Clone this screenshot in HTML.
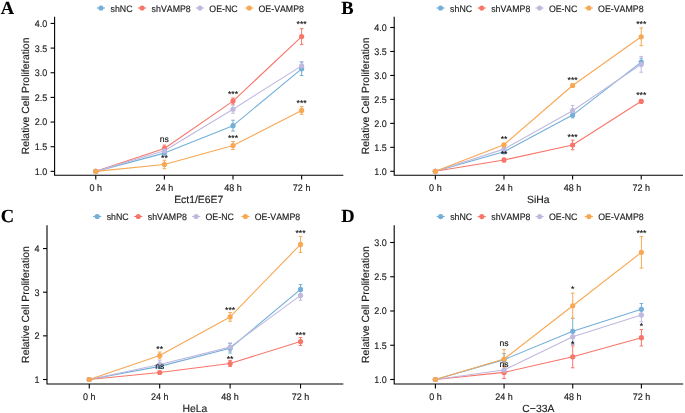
<!DOCTYPE html>
<html><head><meta charset="utf-8"><style>
html,body{margin:0;padding:0;background:#fff;}
svg{display:block;will-change:transform;}
</style></head><body>
<svg width="685" height="413" viewBox="0 0 685 413" font-family='"Liberation Sans", sans-serif'>
<style>text{stroke-width:0.14px;font-kerning:none;text-rendering:geometricPrecision;}</style>
<rect width="685" height="413" fill="#fff"/>
<g><text x="0.8" y="13.5" font-family='"Liberation Serif", serif' font-weight="bold" font-size="18.5" fill="#000" stroke="#000">A</text>
<path d="M54.6 17.2V175.2H342.8" fill="none" stroke="#000" stroke-width="1.1" stroke-linecap="square"/>
<path d="M50.6 171.35H54.6" stroke="#000" stroke-width="1.1"/>
<text transform="translate(47.2 174.75) scale(1 1.06)" text-anchor="end" font-size="9.0" fill="#222" stroke="#222">1.0</text>
<path d="M50.6 146.7H54.6" stroke="#000" stroke-width="1.1"/>
<text transform="translate(47.2 150.1) scale(1 1.06)" text-anchor="end" font-size="9.0" fill="#222" stroke="#222">1.5</text>
<path d="M50.6 122.05H54.6" stroke="#000" stroke-width="1.1"/>
<text transform="translate(47.2 125.45) scale(1 1.06)" text-anchor="end" font-size="9.0" fill="#222" stroke="#222">2.0</text>
<path d="M50.6 97.4H54.6" stroke="#000" stroke-width="1.1"/>
<text transform="translate(47.2 100.8) scale(1 1.06)" text-anchor="end" font-size="9.0" fill="#222" stroke="#222">2.5</text>
<path d="M50.6 72.75H54.6" stroke="#000" stroke-width="1.1"/>
<text transform="translate(47.2 76.15) scale(1 1.06)" text-anchor="end" font-size="9.0" fill="#222" stroke="#222">3.0</text>
<path d="M50.6 48.1H54.6" stroke="#000" stroke-width="1.1"/>
<text transform="translate(47.2 51.5) scale(1 1.06)" text-anchor="end" font-size="9.0" fill="#222" stroke="#222">3.5</text>
<path d="M50.6 23.45H54.6" stroke="#000" stroke-width="1.1"/>
<text transform="translate(47.2 26.85) scale(1 1.06)" text-anchor="end" font-size="9.0" fill="#222" stroke="#222">4.0</text>
<path d="M95.77 175.2v4.4" stroke="#000" stroke-width="1.1"/>
<text transform="translate(95.77 190.8) scale(1 1.06)" text-anchor="middle" font-size="9.0" fill="#222" stroke="#222">0 h</text>
<path d="M164.39 175.2v4.4" stroke="#000" stroke-width="1.1"/>
<text transform="translate(164.39 190.8) scale(1 1.06)" text-anchor="middle" font-size="9.0" fill="#222" stroke="#222">24 h</text>
<path d="M233.01 175.2v4.4" stroke="#000" stroke-width="1.1"/>
<text transform="translate(233.01 190.8) scale(1 1.06)" text-anchor="middle" font-size="9.0" fill="#222" stroke="#222">48 h</text>
<path d="M301.63 175.2v4.4" stroke="#000" stroke-width="1.1"/>
<text transform="translate(301.63 190.8) scale(1 1.06)" text-anchor="middle" font-size="9.0" fill="#222" stroke="#222">72 h</text>
<text x="198.7" y="202.7" text-anchor="middle" font-size="10.4" fill="#1c1c1c" stroke="#1c1c1c" stroke-width="0.12">Ect1/E6E7</text>
<text transform="translate(29.1 95.9) rotate(-90)" text-anchor="middle" font-size="10.4" fill="#1c1c1c" stroke="#1c1c1c" stroke-width="0.12">Relative Cell Proliferation</text>
<path d="M96.85 8h8.2" stroke="#73AFD8" stroke-width="1.1"/>
<circle cx="100.95" cy="8" r="2.55" fill="#73AFD8"/>
<text transform="translate(110.5 11.6) scale(1 1.06)" font-size="8.8" fill="#222" stroke="#222">shNC</text>
<path d="M138 8h8.2" stroke="#F7766A" stroke-width="1.1"/>
<circle cx="142.1" cy="8" r="2.55" fill="#F7766A"/>
<text transform="translate(151.6 11.6) scale(1 1.06)" font-size="8.8" fill="#222" stroke="#222">shVAMP8</text>
<path d="M195.85 8h8.2" stroke="#C0B9DF" stroke-width="1.1"/>
<circle cx="199.95" cy="8" r="2.55" fill="#C0B9DF"/>
<text transform="translate(209.3 11.6) scale(1 1.06)" font-size="8.8" fill="#222" stroke="#222">OE-NC</text>
<path d="M245.1 8h8.2" stroke="#F7A853" stroke-width="1.1"/>
<circle cx="249.2" cy="8" r="2.55" fill="#F7A853"/>
<text transform="translate(258.5 11.6) scale(1 1.06)" font-size="8.8" fill="#222" stroke="#222">OE-VAMP8</text>
<path d="M95.77 171.35 L164.39 153.11 L233.01 125.65 L301.63 68.81" fill="none" stroke="#73AFD8" stroke-width="1.1" stroke-linejoin="round"/>
<path d="M95.77 171.35 L164.39 148.43 L233.01 101.1 L301.63 36.61" fill="none" stroke="#F7766A" stroke-width="1.1" stroke-linejoin="round"/>
<path d="M95.77 171.35 L164.39 150.79 L233.01 109.23 L301.63 65.85" fill="none" stroke="#C0B9DF" stroke-width="1.1" stroke-linejoin="round"/>
<path d="M95.77 171.35 L164.39 164.45 L233.01 145.52 L301.63 110.46" fill="none" stroke="#F7A853" stroke-width="1.1" stroke-linejoin="round"/>
<path d="M164.39 151.63V154.59M162.59 151.63h3.6M162.59 154.59h3.6" fill="none" stroke="#73AFD8" stroke-width="1.0"/>
<path d="M233.01 120.23V131.07M231.21 120.23h3.6M231.21 131.07h3.6" fill="none" stroke="#73AFD8" stroke-width="1.0"/>
<path d="M301.63 62.1V75.51M299.83 62.1h3.6M299.83 75.51h3.6" fill="none" stroke="#73AFD8" stroke-width="1.0"/>
<path d="M164.39 145.12V151.73M162.59 145.12h3.6M162.59 151.73h3.6" fill="none" stroke="#F7766A" stroke-width="1.0"/>
<path d="M233.01 97.99V104.2M231.21 97.99h3.6M231.21 104.2h3.6" fill="none" stroke="#F7766A" stroke-width="1.0"/>
<path d="M301.63 28.63V44.6M299.83 28.63h3.6M299.83 44.6h3.6" fill="none" stroke="#F7766A" stroke-width="1.0"/>
<path d="M164.39 148.82V152.76M162.59 148.82h3.6M162.59 152.76h3.6" fill="none" stroke="#C0B9DF" stroke-width="1.0"/>
<path d="M233.01 105.19V113.27M231.21 105.19h3.6M231.21 113.27h3.6" fill="none" stroke="#C0B9DF" stroke-width="1.0"/>
<path d="M301.63 61.56V70.14M299.83 61.56h3.6M299.83 70.14h3.6" fill="none" stroke="#C0B9DF" stroke-width="1.0"/>
<path d="M164.39 160.21V168.69M162.59 160.21h3.6M162.59 168.69h3.6" fill="none" stroke="#F7A853" stroke-width="1.0"/>
<path d="M233.01 141.47V149.56M231.21 141.47h3.6M231.21 149.56h3.6" fill="none" stroke="#F7A853" stroke-width="1.0"/>
<path d="M301.63 106.57V114.36M299.83 106.57h3.6M299.83 114.36h3.6" fill="none" stroke="#F7A853" stroke-width="1.0"/>
<circle cx="95.77" cy="171.35" r="2.6" fill="#73AFD8"/>
<circle cx="164.39" cy="153.11" r="2.6" fill="#73AFD8"/>
<circle cx="233.01" cy="125.65" r="2.6" fill="#73AFD8"/>
<circle cx="301.63" cy="68.81" r="2.6" fill="#73AFD8"/>
<circle cx="95.77" cy="171.35" r="2.6" fill="#F7766A"/>
<circle cx="164.39" cy="148.43" r="2.6" fill="#F7766A"/>
<circle cx="233.01" cy="101.1" r="2.6" fill="#F7766A"/>
<circle cx="301.63" cy="36.61" r="2.6" fill="#F7766A"/>
<circle cx="95.77" cy="171.35" r="2.6" fill="#C0B9DF"/>
<circle cx="164.39" cy="150.79" r="2.6" fill="#C0B9DF"/>
<circle cx="233.01" cy="109.23" r="2.6" fill="#C0B9DF"/>
<circle cx="301.63" cy="65.85" r="2.6" fill="#C0B9DF"/>
<circle cx="95.77" cy="171.35" r="2.6" fill="#F7A853"/>
<circle cx="164.39" cy="164.45" r="2.6" fill="#F7A853"/>
<circle cx="233.01" cy="145.52" r="2.6" fill="#F7A853"/>
<circle cx="301.63" cy="110.46" r="2.6" fill="#F7A853"/>
<text x="164.39" y="141.8" text-anchor="middle" font-size="8.6" fill="#111" stroke="#111">ns</text>
<text x="164.39" y="160.5" text-anchor="middle" font-size="8.6" fill="#111" stroke="#111">**</text>
<text x="233.01" y="96.8" text-anchor="middle" font-size="8.6" fill="#111" stroke="#111">***</text>
<text x="233.01" y="141.2" text-anchor="middle" font-size="8.6" fill="#111" stroke="#111">***</text>
<text x="301.63" y="27.4" text-anchor="middle" font-size="8.6" fill="#111" stroke="#111">***</text>
<text x="301.63" y="106.3" text-anchor="middle" font-size="8.6" fill="#111" stroke="#111">***</text></g>
<g><text x="341.3" y="13.5" font-family='"Liberation Serif", serif' font-weight="bold" font-size="18.5" fill="#000" stroke="#000">B</text>
<path d="M394.2 17.2V175.2H682.4" fill="none" stroke="#000" stroke-width="1.1" stroke-linecap="square"/>
<path d="M390.2 171.3H394.2" stroke="#000" stroke-width="1.1"/>
<text transform="translate(386.8 174.7) scale(1 1.06)" text-anchor="end" font-size="9.0" fill="#222" stroke="#222">1.0</text>
<path d="M390.2 147.34H394.2" stroke="#000" stroke-width="1.1"/>
<text transform="translate(386.8 150.74) scale(1 1.06)" text-anchor="end" font-size="9.0" fill="#222" stroke="#222">1.5</text>
<path d="M390.2 123.37H394.2" stroke="#000" stroke-width="1.1"/>
<text transform="translate(386.8 126.77) scale(1 1.06)" text-anchor="end" font-size="9.0" fill="#222" stroke="#222">2.0</text>
<path d="M390.2 99.41H394.2" stroke="#000" stroke-width="1.1"/>
<text transform="translate(386.8 102.81) scale(1 1.06)" text-anchor="end" font-size="9.0" fill="#222" stroke="#222">2.5</text>
<path d="M390.2 75.44H394.2" stroke="#000" stroke-width="1.1"/>
<text transform="translate(386.8 78.84) scale(1 1.06)" text-anchor="end" font-size="9.0" fill="#222" stroke="#222">3.0</text>
<path d="M390.2 51.48H394.2" stroke="#000" stroke-width="1.1"/>
<text transform="translate(386.8 54.88) scale(1 1.06)" text-anchor="end" font-size="9.0" fill="#222" stroke="#222">3.5</text>
<path d="M390.2 27.51H394.2" stroke="#000" stroke-width="1.1"/>
<text transform="translate(386.8 30.91) scale(1 1.06)" text-anchor="end" font-size="9.0" fill="#222" stroke="#222">4.0</text>
<path d="M435.37 175.2v4.4" stroke="#000" stroke-width="1.1"/>
<text transform="translate(435.37 190.8) scale(1 1.06)" text-anchor="middle" font-size="9.0" fill="#222" stroke="#222">0 h</text>
<path d="M503.99 175.2v4.4" stroke="#000" stroke-width="1.1"/>
<text transform="translate(503.99 190.8) scale(1 1.06)" text-anchor="middle" font-size="9.0" fill="#222" stroke="#222">24 h</text>
<path d="M572.61 175.2v4.4" stroke="#000" stroke-width="1.1"/>
<text transform="translate(572.61 190.8) scale(1 1.06)" text-anchor="middle" font-size="9.0" fill="#222" stroke="#222">48 h</text>
<path d="M641.23 175.2v4.4" stroke="#000" stroke-width="1.1"/>
<text transform="translate(641.23 190.8) scale(1 1.06)" text-anchor="middle" font-size="9.0" fill="#222" stroke="#222">72 h</text>
<text x="538.3" y="202.7" text-anchor="middle" font-size="10.4" fill="#1c1c1c" stroke="#1c1c1c" stroke-width="0.12">SiHa</text>
<text transform="translate(368.6 95.9) rotate(-90)" text-anchor="middle" font-size="10.4" fill="#1c1c1c" stroke="#1c1c1c" stroke-width="0.12">Relative Cell Proliferation</text>
<path d="M436.45 8h8.2" stroke="#73AFD8" stroke-width="1.1"/>
<circle cx="440.55" cy="8" r="2.55" fill="#73AFD8"/>
<text transform="translate(450.1 11.6) scale(1 1.06)" font-size="8.8" fill="#222" stroke="#222">shNC</text>
<path d="M477.6 8h8.2" stroke="#F7766A" stroke-width="1.1"/>
<circle cx="481.7" cy="8" r="2.55" fill="#F7766A"/>
<text transform="translate(491.2 11.6) scale(1 1.06)" font-size="8.8" fill="#222" stroke="#222">shVAMP8</text>
<path d="M535.45 8h8.2" stroke="#C0B9DF" stroke-width="1.1"/>
<circle cx="539.55" cy="8" r="2.55" fill="#C0B9DF"/>
<text transform="translate(548.9 11.6) scale(1 1.06)" font-size="8.8" fill="#222" stroke="#222">OE-NC</text>
<path d="M584.7 8h8.2" stroke="#F7A853" stroke-width="1.1"/>
<circle cx="588.8" cy="8" r="2.55" fill="#F7A853"/>
<text transform="translate(598.1 11.6) scale(1 1.06)" font-size="8.8" fill="#222" stroke="#222">OE-VAMP8</text>
<path d="M435.37 171.3 L503.99 151.79 L572.61 115.08 L641.23 62.12" fill="none" stroke="#73AFD8" stroke-width="1.1" stroke-linejoin="round"/>
<path d="M435.37 171.3 L503.99 159.99 L572.61 144.99 L641.23 101.32" fill="none" stroke="#F7766A" stroke-width="1.1" stroke-linejoin="round"/>
<path d="M435.37 171.3 L503.99 149.11 L572.61 110.72 L641.23 64.32" fill="none" stroke="#C0B9DF" stroke-width="1.1" stroke-linejoin="round"/>
<path d="M435.37 171.3 L503.99 144.79 L572.61 85.51 L641.23 36.81" fill="none" stroke="#F7A853" stroke-width="1.1" stroke-linejoin="round"/>
<path d="M503.99 150.35V153.23M502.19 150.35h3.6M502.19 153.23h3.6" fill="none" stroke="#73AFD8" stroke-width="1.0"/>
<path d="M572.61 112.3V117.86M570.81 112.3h3.6M570.81 117.86h3.6" fill="none" stroke="#73AFD8" stroke-width="1.0"/>
<path d="M641.23 58.23V66M639.43 58.23h3.6M639.43 66h3.6" fill="none" stroke="#73AFD8" stroke-width="1.0"/>
<path d="M503.99 158.07V161.91M502.19 158.07h3.6M502.19 161.91h3.6" fill="none" stroke="#F7766A" stroke-width="1.0"/>
<path d="M572.61 140.19V149.78M570.81 140.19h3.6M570.81 149.78h3.6" fill="none" stroke="#F7766A" stroke-width="1.0"/>
<path d="M641.23 99.41V103.24M639.43 99.41h3.6M639.43 103.24h3.6" fill="none" stroke="#F7766A" stroke-width="1.0"/>
<path d="M503.99 147.19V151.03M502.19 147.19h3.6M502.19 151.03h3.6" fill="none" stroke="#C0B9DF" stroke-width="1.0"/>
<path d="M572.61 105.44V115.99M570.81 105.44h3.6M570.81 115.99h3.6" fill="none" stroke="#C0B9DF" stroke-width="1.0"/>
<path d="M641.23 56.41V72.23M639.43 56.41h3.6M639.43 72.23h3.6" fill="none" stroke="#C0B9DF" stroke-width="1.0"/>
<path d="M503.99 143.36V146.23M502.19 143.36h3.6M502.19 146.23h3.6" fill="none" stroke="#F7A853" stroke-width="1.0"/>
<path d="M572.61 84.07V86.94M570.81 84.07h3.6M570.81 86.94h3.6" fill="none" stroke="#F7A853" stroke-width="1.0"/>
<path d="M641.23 27.89V45.72M639.43 27.89h3.6M639.43 45.72h3.6" fill="none" stroke="#F7A853" stroke-width="1.0"/>
<circle cx="435.37" cy="171.3" r="2.6" fill="#73AFD8"/>
<circle cx="503.99" cy="151.79" r="2.6" fill="#73AFD8"/>
<circle cx="572.61" cy="115.08" r="2.6" fill="#73AFD8"/>
<circle cx="641.23" cy="62.12" r="2.6" fill="#73AFD8"/>
<circle cx="435.37" cy="171.3" r="2.6" fill="#F7766A"/>
<circle cx="503.99" cy="159.99" r="2.6" fill="#F7766A"/>
<circle cx="572.61" cy="144.99" r="2.6" fill="#F7766A"/>
<circle cx="641.23" cy="101.32" r="2.6" fill="#F7766A"/>
<circle cx="435.37" cy="171.3" r="2.6" fill="#C0B9DF"/>
<circle cx="503.99" cy="149.11" r="2.6" fill="#C0B9DF"/>
<circle cx="572.61" cy="110.72" r="2.6" fill="#C0B9DF"/>
<circle cx="641.23" cy="64.32" r="2.6" fill="#C0B9DF"/>
<circle cx="435.37" cy="171.3" r="2.6" fill="#F7A853"/>
<circle cx="503.99" cy="144.79" r="2.6" fill="#F7A853"/>
<circle cx="572.61" cy="85.51" r="2.6" fill="#F7A853"/>
<circle cx="641.23" cy="36.81" r="2.6" fill="#F7A853"/>
<text x="503.99" y="142" text-anchor="middle" font-size="8.6" fill="#111" stroke="#111">**</text>
<text x="503.99" y="156.7" text-anchor="middle" font-size="8.6" fill="#111" stroke="#111">**</text>
<text x="572.61" y="82.8" text-anchor="middle" font-size="8.6" fill="#111" stroke="#111">***</text>
<text x="572.61" y="140" text-anchor="middle" font-size="8.6" fill="#111" stroke="#111">***</text>
<text x="641.23" y="27.4" text-anchor="middle" font-size="8.6" fill="#111" stroke="#111">***</text>
<text x="641.23" y="97.7" text-anchor="middle" font-size="8.6" fill="#111" stroke="#111">***</text></g>
<g><text x="0.8" y="222" font-family='"Liberation Serif", serif' font-weight="bold" font-size="18.5" fill="#000" stroke="#000">C</text>
<path d="M47 225.7V384H342.8" fill="none" stroke="#000" stroke-width="1.1" stroke-linecap="square"/>
<path d="M43 379.5H47" stroke="#000" stroke-width="1.1"/>
<text transform="translate(39.6 382.9) scale(1 1.06)" text-anchor="end" font-size="9.0" fill="#222" stroke="#222">1</text>
<path d="M43 335.85H47" stroke="#000" stroke-width="1.1"/>
<text transform="translate(39.6 339.25) scale(1 1.06)" text-anchor="end" font-size="9.0" fill="#222" stroke="#222">2</text>
<path d="M43 292.2H47" stroke="#000" stroke-width="1.1"/>
<text transform="translate(39.6 295.6) scale(1 1.06)" text-anchor="end" font-size="9.0" fill="#222" stroke="#222">3</text>
<path d="M43 248.55H47" stroke="#000" stroke-width="1.1"/>
<text transform="translate(39.6 251.95) scale(1 1.06)" text-anchor="end" font-size="9.0" fill="#222" stroke="#222">4</text>
<path d="M89.26 384v4.4" stroke="#000" stroke-width="1.1"/>
<text transform="translate(89.26 399.6) scale(1 1.06)" text-anchor="middle" font-size="9.0" fill="#222" stroke="#222">0 h</text>
<path d="M159.69 384v4.4" stroke="#000" stroke-width="1.1"/>
<text transform="translate(159.69 399.6) scale(1 1.06)" text-anchor="middle" font-size="9.0" fill="#222" stroke="#222">24 h</text>
<path d="M230.11 384v4.4" stroke="#000" stroke-width="1.1"/>
<text transform="translate(230.11 399.6) scale(1 1.06)" text-anchor="middle" font-size="9.0" fill="#222" stroke="#222">48 h</text>
<path d="M300.54 384v4.4" stroke="#000" stroke-width="1.1"/>
<text transform="translate(300.54 399.6) scale(1 1.06)" text-anchor="middle" font-size="9.0" fill="#222" stroke="#222">72 h</text>
<text x="194.9" y="411.5" text-anchor="middle" font-size="10.4" fill="#1c1c1c" stroke="#1c1c1c" stroke-width="0.12">HeLa</text>
<text transform="translate(29.1 304.55) rotate(-90)" text-anchor="middle" font-size="10.4" fill="#1c1c1c" stroke="#1c1c1c" stroke-width="0.12">Relative Cell Proliferation</text>
<path d="M93.05 216.5h8.2" stroke="#73AFD8" stroke-width="1.1"/>
<circle cx="97.15" cy="216.5" r="2.55" fill="#73AFD8"/>
<text transform="translate(106.7 220.1) scale(1 1.06)" font-size="8.8" fill="#222" stroke="#222">shNC</text>
<path d="M134.2 216.5h8.2" stroke="#F7766A" stroke-width="1.1"/>
<circle cx="138.3" cy="216.5" r="2.55" fill="#F7766A"/>
<text transform="translate(147.8 220.1) scale(1 1.06)" font-size="8.8" fill="#222" stroke="#222">shVAMP8</text>
<path d="M192.05 216.5h8.2" stroke="#C0B9DF" stroke-width="1.1"/>
<circle cx="196.15" cy="216.5" r="2.55" fill="#C0B9DF"/>
<text transform="translate(205.5 220.1) scale(1 1.06)" font-size="8.8" fill="#222" stroke="#222">OE-NC</text>
<path d="M241.3 216.5h8.2" stroke="#F7A853" stroke-width="1.1"/>
<circle cx="245.4" cy="216.5" r="2.55" fill="#F7A853"/>
<text transform="translate(254.7 220.1) scale(1 1.06)" font-size="8.8" fill="#222" stroke="#222">OE-VAMP8</text>
<path d="M89.26 379.5 L159.69 366.4 L230.11 348.29 L300.54 289.41" fill="none" stroke="#73AFD8" stroke-width="1.1" stroke-linejoin="round"/>
<path d="M89.26 379.5 L159.69 372.52 L230.11 363.48 L300.54 341.48" fill="none" stroke="#F7766A" stroke-width="1.1" stroke-linejoin="round"/>
<path d="M89.26 379.5 L159.69 364.44 L230.11 347.11 L300.54 295.39" fill="none" stroke="#C0B9DF" stroke-width="1.1" stroke-linejoin="round"/>
<path d="M89.26 379.5 L159.69 355.49 L230.11 316.91 L300.54 244.4" fill="none" stroke="#F7A853" stroke-width="1.1" stroke-linejoin="round"/>
<path d="M159.69 365.1V367.71M157.89 365.1h3.6M157.89 367.71h3.6" fill="none" stroke="#73AFD8" stroke-width="1.0"/>
<path d="M230.11 343.49V353.09M228.31 343.49h3.6M228.31 353.09h3.6" fill="none" stroke="#73AFD8" stroke-width="1.0"/>
<path d="M300.54 284.6V294.21M298.74 284.6h3.6M298.74 294.21h3.6" fill="none" stroke="#73AFD8" stroke-width="1.0"/>
<path d="M159.69 371.21V373.83M157.89 371.21h3.6M157.89 373.83h3.6" fill="none" stroke="#F7766A" stroke-width="1.0"/>
<path d="M230.11 360.42V366.54M228.31 360.42h3.6M228.31 366.54h3.6" fill="none" stroke="#F7766A" stroke-width="1.0"/>
<path d="M300.54 337.55V345.41M298.74 337.55h3.6M298.74 345.41h3.6" fill="none" stroke="#F7766A" stroke-width="1.0"/>
<path d="M159.69 360.73V368.15M157.89 360.73h3.6M157.89 368.15h3.6" fill="none" stroke="#C0B9DF" stroke-width="1.0"/>
<path d="M230.11 342.92V351.3M228.31 342.92h3.6M228.31 351.3h3.6" fill="none" stroke="#C0B9DF" stroke-width="1.0"/>
<path d="M300.54 290.58V300.19M298.74 290.58h3.6M298.74 300.19h3.6" fill="none" stroke="#C0B9DF" stroke-width="1.0"/>
<path d="M159.69 352V358.98M157.89 352h3.6M157.89 358.98h3.6" fill="none" stroke="#F7A853" stroke-width="1.0"/>
<path d="M230.11 312.54V321.27M228.31 312.54h3.6M228.31 321.27h3.6" fill="none" stroke="#F7A853" stroke-width="1.0"/>
<path d="M300.54 236.37V252.43M298.74 236.37h3.6M298.74 252.43h3.6" fill="none" stroke="#F7A853" stroke-width="1.0"/>
<circle cx="89.26" cy="379.5" r="2.6" fill="#73AFD8"/>
<circle cx="159.69" cy="366.4" r="2.6" fill="#73AFD8"/>
<circle cx="230.11" cy="348.29" r="2.6" fill="#73AFD8"/>
<circle cx="300.54" cy="289.41" r="2.6" fill="#73AFD8"/>
<circle cx="89.26" cy="379.5" r="2.6" fill="#F7766A"/>
<circle cx="159.69" cy="372.52" r="2.6" fill="#F7766A"/>
<circle cx="230.11" cy="363.48" r="2.6" fill="#F7766A"/>
<circle cx="300.54" cy="341.48" r="2.6" fill="#F7766A"/>
<circle cx="89.26" cy="379.5" r="2.6" fill="#C0B9DF"/>
<circle cx="159.69" cy="364.44" r="2.6" fill="#C0B9DF"/>
<circle cx="230.11" cy="347.11" r="2.6" fill="#C0B9DF"/>
<circle cx="300.54" cy="295.39" r="2.6" fill="#C0B9DF"/>
<circle cx="89.26" cy="379.5" r="2.6" fill="#F7A853"/>
<circle cx="159.69" cy="355.49" r="2.6" fill="#F7A853"/>
<circle cx="230.11" cy="316.91" r="2.6" fill="#F7A853"/>
<circle cx="300.54" cy="244.4" r="2.6" fill="#F7A853"/>
<text x="159.69" y="352" text-anchor="middle" font-size="8.6" fill="#111" stroke="#111">**</text>
<text x="159.69" y="369.4" text-anchor="middle" font-size="8.6" fill="#111" stroke="#111">ns</text>
<text x="230.11" y="313.1" text-anchor="middle" font-size="8.6" fill="#111" stroke="#111">***</text>
<text x="230.11" y="361.7" text-anchor="middle" font-size="8.6" fill="#111" stroke="#111">**</text>
<text x="300.54" y="235.9" text-anchor="middle" font-size="8.6" fill="#111" stroke="#111">***</text>
<text x="300.54" y="338.1" text-anchor="middle" font-size="8.6" fill="#111" stroke="#111">***</text></g>
<g><text x="341.3" y="222.1" font-family='"Liberation Serif", serif' font-weight="bold" font-size="18.5" fill="#000" stroke="#000">D</text>
<path d="M394.2 225.8V384H682.6" fill="none" stroke="#000" stroke-width="1.1" stroke-linecap="square"/>
<path d="M390.2 379.5H394.2" stroke="#000" stroke-width="1.1"/>
<text transform="translate(386.8 382.9) scale(1 1.06)" text-anchor="end" font-size="9.0" fill="#222" stroke="#222">1.0</text>
<path d="M390.2 345.25H394.2" stroke="#000" stroke-width="1.1"/>
<text transform="translate(386.8 348.65) scale(1 1.06)" text-anchor="end" font-size="9.0" fill="#222" stroke="#222">1.5</text>
<path d="M390.2 311H394.2" stroke="#000" stroke-width="1.1"/>
<text transform="translate(386.8 314.4) scale(1 1.06)" text-anchor="end" font-size="9.0" fill="#222" stroke="#222">2.0</text>
<path d="M390.2 276.75H394.2" stroke="#000" stroke-width="1.1"/>
<text transform="translate(386.8 280.15) scale(1 1.06)" text-anchor="end" font-size="9.0" fill="#222" stroke="#222">2.5</text>
<path d="M390.2 242.5H394.2" stroke="#000" stroke-width="1.1"/>
<text transform="translate(386.8 245.9) scale(1 1.06)" text-anchor="end" font-size="9.0" fill="#222" stroke="#222">3.0</text>
<path d="M435.4 384v4.4" stroke="#000" stroke-width="1.1"/>
<text transform="translate(435.4 399.6) scale(1 1.06)" text-anchor="middle" font-size="9.0" fill="#222" stroke="#222">0 h</text>
<path d="M504.07 384v4.4" stroke="#000" stroke-width="1.1"/>
<text transform="translate(504.07 399.6) scale(1 1.06)" text-anchor="middle" font-size="9.0" fill="#222" stroke="#222">24 h</text>
<path d="M572.73 384v4.4" stroke="#000" stroke-width="1.1"/>
<text transform="translate(572.73 399.6) scale(1 1.06)" text-anchor="middle" font-size="9.0" fill="#222" stroke="#222">48 h</text>
<path d="M641.4 384v4.4" stroke="#000" stroke-width="1.1"/>
<text transform="translate(641.4 399.6) scale(1 1.06)" text-anchor="middle" font-size="9.0" fill="#222" stroke="#222">72 h</text>
<text x="538.4" y="411.5" text-anchor="middle" font-size="10.4" fill="#1c1c1c" stroke="#1c1c1c" stroke-width="0.12">C−33A</text>
<text transform="translate(368.6 304.6) rotate(-90)" text-anchor="middle" font-size="10.4" fill="#1c1c1c" stroke="#1c1c1c" stroke-width="0.12">Relative Cell Proliferation</text>
<path d="M436.55 216.6h8.2" stroke="#73AFD8" stroke-width="1.1"/>
<circle cx="440.65" cy="216.6" r="2.55" fill="#73AFD8"/>
<text transform="translate(450.2 220.2) scale(1 1.06)" font-size="8.8" fill="#222" stroke="#222">shNC</text>
<path d="M477.7 216.6h8.2" stroke="#F7766A" stroke-width="1.1"/>
<circle cx="481.8" cy="216.6" r="2.55" fill="#F7766A"/>
<text transform="translate(491.3 220.2) scale(1 1.06)" font-size="8.8" fill="#222" stroke="#222">shVAMP8</text>
<path d="M535.55 216.6h8.2" stroke="#C0B9DF" stroke-width="1.1"/>
<circle cx="539.65" cy="216.6" r="2.55" fill="#C0B9DF"/>
<text transform="translate(549 220.2) scale(1 1.06)" font-size="8.8" fill="#222" stroke="#222">OE-NC</text>
<path d="M584.8 216.6h8.2" stroke="#F7A853" stroke-width="1.1"/>
<circle cx="588.9" cy="216.6" r="2.55" fill="#F7A853"/>
<text transform="translate(598.2 220.2) scale(1 1.06)" font-size="8.8" fill="#222" stroke="#222">OE-VAMP8</text>
<path d="M435.4 379.5 L504.07 359.63 L572.73 331.28 L641.4 309.29" fill="none" stroke="#73AFD8" stroke-width="1.1" stroke-linejoin="round"/>
<path d="M435.4 379.5 L504.07 372.38 L572.73 356.83 L641.4 337.71" fill="none" stroke="#F7766A" stroke-width="1.1" stroke-linejoin="round"/>
<path d="M435.4 379.5 L504.07 369.98 L572.73 336.82 L641.4 314.97" fill="none" stroke="#C0B9DF" stroke-width="1.1" stroke-linejoin="round"/>
<path d="M435.4 379.5 L504.07 359.02 L572.73 305.73 L641.4 252.36" fill="none" stroke="#F7A853" stroke-width="1.1" stroke-linejoin="round"/>
<path d="M504.07 353.47V365.8M502.27 353.47h3.6M502.27 365.8h3.6" fill="none" stroke="#73AFD8" stroke-width="1.0"/>
<path d="M572.73 318.26V344.29M570.93 318.26h3.6M570.93 344.29h3.6" fill="none" stroke="#73AFD8" stroke-width="1.0"/>
<path d="M641.4 303.47V315.11M639.6 303.47h3.6M639.6 315.11h3.6" fill="none" stroke="#73AFD8" stroke-width="1.0"/>
<path d="M504.07 366.21V378.54M502.27 366.21h3.6M502.27 378.54h3.6" fill="none" stroke="#F7766A" stroke-width="1.0"/>
<path d="M572.73 345.87V367.79M570.93 345.87h3.6M570.93 367.79h3.6" fill="none" stroke="#F7766A" stroke-width="1.0"/>
<path d="M641.4 329.5V345.94M639.6 329.5h3.6M639.6 345.94h3.6" fill="none" stroke="#F7766A" stroke-width="1.0"/>
<path d="M504.07 367.92V372.03M502.27 367.92h3.6M502.27 372.03h3.6" fill="none" stroke="#C0B9DF" stroke-width="1.0"/>
<path d="M572.73 329.97V343.67M570.93 329.97h3.6M570.93 343.67h3.6" fill="none" stroke="#C0B9DF" stroke-width="1.0"/>
<path d="M641.4 308.12V321.82M639.6 308.12h3.6M639.6 321.82h3.6" fill="none" stroke="#C0B9DF" stroke-width="1.0"/>
<path d="M504.07 349.43V368.61M502.27 349.43h3.6M502.27 368.61h3.6" fill="none" stroke="#F7A853" stroke-width="1.0"/>
<path d="M572.73 293.05V318.4M570.93 293.05h3.6M570.93 318.4h3.6" fill="none" stroke="#F7A853" stroke-width="1.0"/>
<path d="M641.4 236.61V268.12M639.6 236.61h3.6M639.6 268.12h3.6" fill="none" stroke="#F7A853" stroke-width="1.0"/>
<circle cx="435.4" cy="379.5" r="2.6" fill="#73AFD8"/>
<circle cx="504.07" cy="359.63" r="2.6" fill="#73AFD8"/>
<circle cx="572.73" cy="331.28" r="2.6" fill="#73AFD8"/>
<circle cx="641.4" cy="309.29" r="2.6" fill="#73AFD8"/>
<circle cx="435.4" cy="379.5" r="2.6" fill="#F7766A"/>
<circle cx="504.07" cy="372.38" r="2.6" fill="#F7766A"/>
<circle cx="572.73" cy="356.83" r="2.6" fill="#F7766A"/>
<circle cx="641.4" cy="337.71" r="2.6" fill="#F7766A"/>
<circle cx="435.4" cy="379.5" r="2.6" fill="#C0B9DF"/>
<circle cx="504.07" cy="369.98" r="2.6" fill="#C0B9DF"/>
<circle cx="572.73" cy="336.82" r="2.6" fill="#C0B9DF"/>
<circle cx="641.4" cy="314.97" r="2.6" fill="#C0B9DF"/>
<circle cx="435.4" cy="379.5" r="2.6" fill="#F7A853"/>
<circle cx="504.07" cy="359.02" r="2.6" fill="#F7A853"/>
<circle cx="572.73" cy="305.73" r="2.6" fill="#F7A853"/>
<circle cx="641.4" cy="252.36" r="2.6" fill="#F7A853"/>
<text x="504.07" y="345.5" text-anchor="middle" font-size="8.6" fill="#111" stroke="#111">ns</text>
<text x="504.07" y="366.5" text-anchor="middle" font-size="8.6" fill="#111" stroke="#111">ns</text>
<text x="572.73" y="292.4" text-anchor="middle" font-size="8.6" fill="#111" stroke="#111">*</text>
<text x="572.73" y="347.4" text-anchor="middle" font-size="8.6" fill="#111" stroke="#111">*</text>
<text x="641.4" y="236" text-anchor="middle" font-size="8.6" fill="#111" stroke="#111">***</text>
<text x="641.4" y="329.2" text-anchor="middle" font-size="8.6" fill="#111" stroke="#111">*</text></g>
</svg>
</body></html>
